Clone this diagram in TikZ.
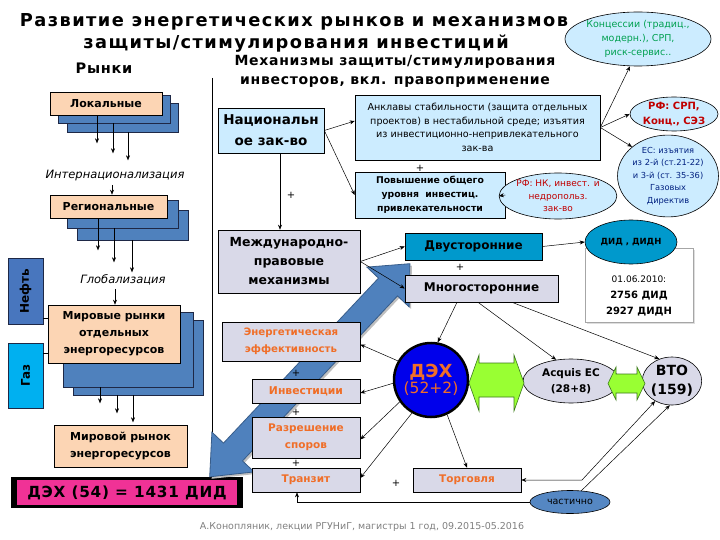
\documentclass[tikz,border=0pt]{standalone}
\usepackage{fontspec}
\setmainfont{DejaVu Sans}
\newfontfamily\wideff[LetterSpace=8]{DejaVu Sans}
\newfontfamily\midff[LetterSpace=5]{DejaVu Sans}
\usetikzlibrary{shapes.geometric,arrows.meta,shadows}
\definecolor{peach}{RGB}{252,213,180}
\definecolor{stackblue}{RGB}{79,129,189}
\definecolor{stackedge}{RGB}{30,40,70}
\definecolor{lblue}{RGB}{204,236,255}
\definecolor{lav}{RGB}{217,217,232}
\definecolor{teal}{RGB}{0,153,204}
\definecolor{gascyan}{RGB}{0,176,240}
\definecolor{oilblue}{RGB}{72,118,190}
\definecolor{mag}{RGB}{240,50,150}
\definecolor{orangetxt}{RGB}{240,110,40}
\definecolor{greentxt}{RGB}{0,160,80}
\definecolor{redtxt}{RGB}{192,0,0}
\definecolor{navytxt}{RGB}{0,32,128}
\definecolor{lime}{RGB}{153,255,51}
\definecolor{limeedge}{RGB}{60,120,30}
\definecolor{dexblue}{RGB}{0,0,235}
\definecolor{bigarrow}{RGB}{79,129,189}
\definecolor{bigarrowedge}{RGB}{56,93,138}
\definecolor{chastblue}{RGB}{85,135,195}
\newcommand{\fsz}[2]{\fontsize{#1}{#2}\selectfont}
\begin{document}
\begin{tikzpicture}[x=1pt,y=-1pt,
  arr/.style={-{Stealth[length=5pt,width=4pt]},line width=0.5pt},
  darr/.style={{Stealth[length=5pt,width=4pt]}-{Stealth[length=5pt,width=4pt]},line width=0.5pt},
  peachbox/.style={draw=black,fill=peach,line width=0.6pt,inner sep=1pt,align=center,font=\bfseries\fsz{11}{17}},
  stackbox/.style={draw=stackedge,fill=stackblue,line width=0.6pt,inner sep=0pt},
  lbbox/.style={draw=black,fill=lblue,line width=0.6pt,inner sep=1pt,align=center},
  lavbox/.style={draw=black,fill=lav,line width=0.6pt,inner sep=1pt,align=center},
  orbox/.style={draw=black,fill=lav,line width=0.6pt,inner sep=1pt,align=center,text=orangetxt,font=\bfseries\fsz{10.5}{17}},
  ell/.style={ellipse,draw=black,line width=0.6pt,inner sep=0pt,align=center},
  itl/.style={font=\itshape\fsz{11.5}{13}},
  plus/.style={font=\fsz{10}{10}}
]
\useasboundingbox (0,0) rectangle (720,540);
\fill[white] (0,0) rectangle (720,540);

% ---------- titles ----------
\node[font=\wideff\bfseries\fsz{17.8}{22}] (t1) at (294,22) {Развитие энергетических рынков и механизмов};
\node[font=\wideff\bfseries\fsz{17.8}{22}] (t2) at (296,44) {защиты/стимулирования инвестиций};
\node[font=\midff\bfseries\fsz{14.5}{16}] (h1) at (104,68) {Рынки};
\node[font=\midff\bfseries\fsz{14}{16}] (h2) at (395,62) {Механизмы защиты/стимулирования};
\node[font=\midff\bfseries\fsz{14}{16}] (h3) at (395,82) {инвесторов, вкл. правоприменение};

\draw[line width=0.6pt] (212,78) -- (212,465);

% ---------- left stacks ----------
\node[stackbox,minimum width=111pt,minimum height=29pt] (lok3) at (122.5,117.5) {};
\node[stackbox,minimum width=112pt,minimum height=28pt] (lok2) at (114,109) {};
\node[peachbox,minimum width=112pt,minimum height=23pt] (lok) at (106,103.5) {Локальные};
\draw[arr] ([xshift=-9pt]lok.south) -- ++(0,28);
\draw[arr] ([xshift=-1pt]lok2.south) -- ++(0,30);
\draw[arr] ([xshift=5.5pt]lok3.south) -- ++(0,28);
\node[itl] (intl) at (115,176) {Интернационализация};

\node[stackbox,minimum width=111pt,minimum height=30pt] (reg3) at (132.5,225) {};
\node[stackbox,minimum width=111pt,minimum height=28pt] (reg2) at (122.5,214) {};
\node[peachbox,minimum width=117pt,minimum height=23pt] (reg) at (108.5,206.5) {Региональные};
\draw[arr] ([xshift=-3pt]intl.south) -- ([xshift=3.5pt]reg.north);
\draw[arr] ([xshift=-10.5pt]reg.south) -- ++(0,32);
\draw[arr] ([xshift=-8.5pt]reg2.south) -- ++(0,34);
\draw[arr] ([xshift=-0.5pt]reg3.south) -- ++(0,32);
\node[itl] (glob) at (123,280) {Глобализация};

\node[stackbox,minimum width=130pt,minimum height=75pt] (mir3) at (138,357.5) {};
\node[stackbox,minimum width=130pt,minimum height=75pt] (mir2) at (128,349.5) {};
\node[peachbox,minimum width=132pt,minimum height=58pt] (mir) at (114,334) {Мировые рынки\\отдельных\\энергоресурсов};
\draw[arr] ([xshift=-8pt]glob.south) -- ([xshift=1pt]mir.north);
\draw[arr] ([xshift=-28pt]mir2.south) -- ++(0,16);
\draw[arr] ([xshift=-21pt]mir3.south) -- ++(0,18);
\draw[arr] ([xshift=-5pt]mir3.south) -- ++(0,27);

\node[peachbox,minimum width=133pt,minimum height=42pt] (mirovoy) at (120.5,446) {Мировой рынок\\энергоресурсов};

\node[draw=stackedge,fill=oilblue,line width=0.6pt,minimum width=35pt,minimum height=66pt] (neft) at (25.5,291) {};
\node[rotate=90,font=\bfseries\fsz{12}{13}] (nefttxt) at (neft) {Нефть};
\node[draw=stackedge,fill=gascyan,line width=0.6pt,minimum width=35pt,minimum height=65pt] (gas) at (25.5,375.5) {};
\node[rotate=90,font=\bfseries\fsz{12}{13}] (gastxt) at (gas) {Газ};
\draw[line width=0.6pt] ([yshift=-27pt]neft.east) -- ([yshift=16pt]mir.west);
\draw[line width=0.6pt] ([yshift=22.5pt]gas.east) -- ([yshift=-19pt]mir.west);

\node[fill=black,minimum width=232pt,minimum height=31pt,inner sep=0pt] (dexo) at (127,492.5) {};
\node[fill=mag,minimum width=220pt,minimum height=25pt,inner sep=0pt,font=\midff\bfseries\fsz{15.3}{18}] (dexl) at (127,492.5) {ДЭХ (54) = 1431 ДИД};

% ---------- big blue double arrow ----------
\fill[black!25] (411.9,265.7) -- (411.1,308.9) -- (399.5,297.9) -- (244.5,462.9) -- (256.1,473.9) -- (211.7,478.8) -- (213.9,434.1) -- (225.5,445.1) -- (380.5,280.1) -- (368.9,269.1) -- cycle;
\draw[fill=bigarrow,draw=bigarrowedge,line width=0.8pt] (409.9,263.7) -- (409.1,306.9) -- (397.5,295.9) -- (242.5,460.9) -- (254.1,471.9) -- (209.7,476.8) -- (211.9,432.1) -- (223.5,443.1) -- (378.5,278.1) -- (366.9,267.1) -- cycle;

% ---------- right side ----------
\node[lbbox,minimum width=106pt,minimum height=45pt,font=\bfseries\fsz{13.5}{21}] (nat) at (271,130.5) {Национальн\\ое зак-во};
\node[lbbox,minimum width=245pt,minimum height=65pt,font=\fsz{9.6}{13.5}] (ankl) at (477.5,127.5) {Анклавы стабильности (защита отдельных\\проектов) в нестабильной среде; изъятия\\из инвестиционно-непривлекательного\\зак-ва};
\node[lbbox,minimum width=150pt,minimum height=46pt,font=\bfseries\fsz{9.3}{14}] (pov) at (430,195) {Повышение общего\\уровня~~инвестиц.\\привлекательности};
\node[ell,fill=lblue,minimum width=104pt,minimum height=46pt,text=redtxt,font=\fsz{9}{12.5}] (rfnk) at (558,196) {РФ: НК, инвест. и\\недропольз.\\зак-во};
\node[ell,fill=lblue,minimum width=137pt,minimum height=54pt,text=greentxt,font=\fsz{9.5}{14}] (konc) at (638,39) {Концессии (традиц.,\\модерн.), СРП,\\риск-сервис..};
\node[ell,fill=lblue,minimum width=72pt,minimum height=34pt,text=redtxt,font=\bfseries\fsz{10}{15}] (rfsrp) at (674,114) {РФ: СРП,\\Конц., СЭЗ};
\node[ell,fill=lblue,minimum width=86pt,minimum height=76pt,text=navytxt,font=\fsz{8.3}{12.5}] (es) at (668,176) {ЕС: изъятия\\из 2-й (ст.21-22)\\и 3-й (ст. 35-36)\\Газовых\\Директив};

\node[lavbox,minimum width=142pt,minimum height=63pt,font=\bfseries\fsz{12.5}{19}] (mezh) at (289,261.5) {Международно-\\правовые\\механизмы};

\draw[arr] (nat.east) -- ([yshift=6.5pt]ankl.west);
\draw[arr] (nat.east) -- (pov.west);
\draw[arr] ([xshift=9pt]nat.south) -- ([xshift=-9pt]mezh.north);
\node[plus] (p1) at (291,195) {+};
\node[plus] (p2) at (420,168) {+};
\draw[arr] (pov.east) -- (rfnk.west);
\draw[arr] (ankl.east) -- ([xshift=-8pt]konc.south);
\draw[arr] (ankl.east) -- (rfsrp.west);
\draw[arr] (ankl.east) -- (es.north west);

\node[draw=black,fill=teal,line width=0.6pt,minimum width=137pt,minimum height=27pt,inner sep=0pt,font=\bfseries\fsz{12}{13}] (dvu) at (473.5,246.5) {Двусторонние};
\node[lavbox,minimum width=153pt,minimum height=27pt,inner sep=0pt,font=\bfseries\fsz{12}{13}] (mno) at (481.5,288.5) {Многосторонние};
\node[plus] (p3) at (460,267) {+};
\draw[arr] (mezh.east) -- (dvu.west);
\draw[arr] (mezh.east) -- (mno.west);

\node[draw=gray!70,fill=white,line width=0.6pt,minimum width=108pt,minimum height=74pt,drop shadow={shadow xshift=2pt,shadow yshift=-2pt,fill=black!25}] (datebox) at (639,285) {};
\node[align=center,font=\fsz{9}{16}] (datetxt) at (639,296) {01.06.2010:\\{\bfseries\fsz{10}{16}2756 ДИД}\\{\bfseries\fsz{10}{16}2927 ДИДН}};
\node[ell,fill=teal,minimum width=92pt,minimum height=44pt,font=\bfseries\fsz{8.5}{10}] (did) at (631,242) {ДИД , ДИДН};
\draw[arr] (dvu.east) -- (did.west);

% DEX circle
\node[circle,draw=black,line width=2.5pt,fill=dexblue,minimum size=74pt,inner sep=0pt,align=center,text=orangetxt] (dex) at (431,380) {{\bfseries\fsz{18}{24}ДЭХ}\\{\fsz{15.5}{20}(52+2)}};
\node[ell,fill=lav,minimum width=96pt,minimum height=44pt,font=\bfseries\fsz{10.5}{16}] (acq) at (571,381) {Acquis ЕС\\(28+8)};
\node[ell,fill=lav,minimum width=58pt,minimum height=48pt,font=\bfseries\fsz{14}{19}] (vto) at (672,381) {ВТО\\(159)};

\draw[fill=lime,draw=limeedge,line width=0.6pt] (469,383) -- (479,355) -- (479,363) -- (514,363) -- (514,355) -- (524,383) -- (514,411) -- (514,397) -- (479,397) -- (479,411) -- cycle;
\draw[fill=lime,draw=limeedge,line width=0.6pt] (608,383.5) -- (616,367) -- (616,374) -- (637,374) -- (637,367) -- (645,383.5) -- (637,400) -- (637,393) -- (616,393) -- (616,400) -- cycle;

\draw[arr] ([xshift=-24.5pt]mno.south) -- (dex.80);
\draw[arr] ([xshift=-3.5pt]mno.south) -- (acq.125);
\draw[arr] ([xshift=30.5pt]mno.south) -- (vto.120);

\node[orbox,minimum width=138pt,minimum height=39pt,font=\bfseries\fsz{10.2}{17}] (energ) at (291,341.5) {Энергетическая\\эффективность};
\node[orbox,minimum width=108pt,minimum height=24pt,font=\bfseries\fsz{10.8}{12}] (inv) at (306,391) {Инвестиции};
\node[orbox,minimum width=108pt,minimum height=41pt] (razr) at (306,437.5) {Разрешение\\споров};
\node[orbox,minimum width=108pt,minimum height=24pt] (tran) at (306,480) {Транзит};
\node[orbox,minimum width=108pt,minimum height=24pt] (torg) at (467,480) {Торговля};
\node[plus] (p4) at (296,373) {+};
\node[plus] (p5) at (296,412) {+};
\node[plus] (p6) at (296,463) {+};
\node[plus] (p7) at (396,483) {+};

\draw[arr] (dex.150) -- ([yshift=-3pt]energ.east);
\draw[arr] (dex.185) -- ([yshift=-2pt]inv.east);
\draw[arr] (dex.215) -- ([yshift=-2pt]razr.east);
\draw[arr] (dex.240) -- ([yshift=2pt]tran.east);
\draw[arr] (dex.295) -- (torg.north);

\node[ell,fill=chastblue,minimum width=80pt,minimum height=23pt,font=\fsz{9.5}{10}] (chast) at (570,502) {частично};
\draw[darr] (torg.east) -- (582,480) -- (vto.230);
\draw[arr] (chast.45) -- (vto.265);
\draw[arr] (chast.west) -| ([xshift=-9pt]tran.south);

\node[text=gray,font=\fsz{9.5}{10}] (foot) at (362,527) {А.Конопляник, лекции РГУНиГ, магистры 1 год, 09.2015-05.2016};
\end{tikzpicture}
\end{document}
